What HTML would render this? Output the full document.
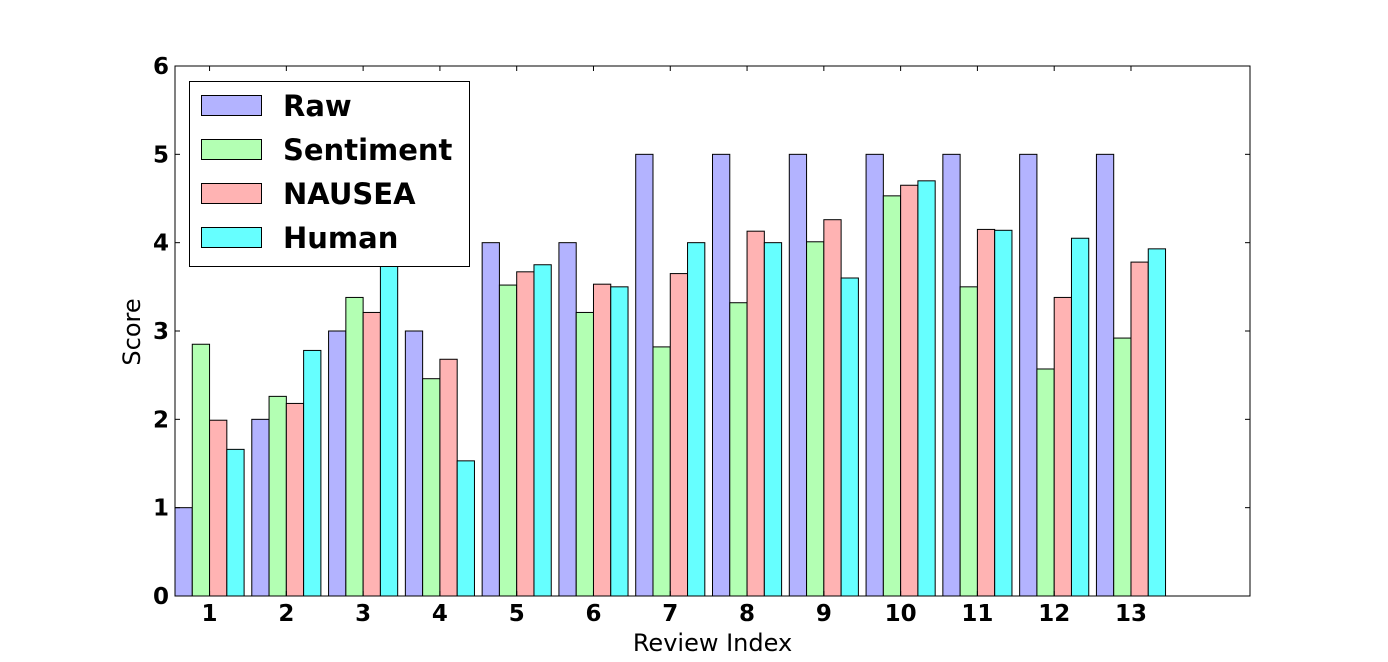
<!DOCTYPE html>
<html><head><meta charset="utf-8"><style>
body{margin:0;background:#fff}
svg{display:block;font-family:"DejaVu Sans","Liberation Sans",sans-serif}
</style></head><body>
<svg id="chart" width="1388" height="662"></svg>
<script>
const categories=["1","2","3","4","5","6","7","8","9","10","11","12","13"];
const seriesNames=["Raw","Sentiment","NAUSEA","Human"];
const rawValues=[1,2,3,3,4,4,5,5,5,5,5,5,5];
const sentimentValues=[2.85,2.26,3.38,2.46,3.52,3.21,2.82,3.32,4.01,4.53,3.50,2.57,2.92];
const nauseaValues=[1.99,2.18,3.21,2.68,3.67,3.53,3.65,4.13,4.26,4.65,4.15,3.38,3.78];
const humanValues=[1.66,2.78,3.85,1.53,3.75,3.50,4.00,4.00,3.60,4.70,4.14,4.05,3.93];
const yTicks=[0,1,2,3,4,5,6];
const colors=["#b3b3ff","#b3ffb3","#ffb3b3","#66ffff"];
const series=[rawValues,sentimentValues,nauseaValues,humanValues];
const NS="http://www.w3.org/2000/svg";
const svg=document.getElementById("chart");
const L=175,R=1250,T=66,B=596;
const xs=v=>L+v*(R-L)/14;
const ys=v=>B-v*(B-T)/6;
const bw=0.225;
function mk(tag,attrs,parent){const e=document.createElementNS(NS,tag);for(const k in attrs)e.setAttribute(k,attrs[k]);(parent||svg).appendChild(e);return e;}
const bars=mk("g",{});


series.forEach((vals,s)=>{
  vals.forEach((v,i)=>{
    const x0=xs(i+s*bw),x1=xs(i+(s+1)*bw);
    const r=mk("rect",{x:x0,y:ys(v),width:x1-x0,height:ys(0)-ys(v),fill:colors[s],stroke:"#000","stroke-width":1},bars);
    
    
  });
});
const frame=mk("rect",{x:L,y:T,width:R-L,height:B-T,fill:"none",stroke:"#000","stroke-width":1});


yTicks.forEach(t=>{
  const y=ys(t);
  mk("line",{x1:L,x2:L+5,y1:y,y2:y,stroke:"#000"});
  mk("line",{x1:R,x2:R-5,y1:y,y2:y,stroke:"#000"});
  const tx=mk("text",{x:L-6,y:y+8,"text-anchor":"end","font-size":23,"font-weight":"bold"});
  tx.textContent=t;
  
  
});
categories.forEach((c,i)=>{
  const x=xs(i+2*bw);
  mk("line",{x1:x,x2:x,y1:B,y2:B-5,stroke:"#000"});
  mk("line",{x1:x,x2:x,y1:T,y2:T+5,stroke:"#000"});
  const tx=mk("text",{x:x,y:B+25,"text-anchor":"middle","font-size":23,"font-weight":"bold"});
  tx.textContent=c;
  
  
});
const xl=mk("text",{x:(L+R)/2,y:651,"text-anchor":"middle","font-size":24});
xl.textContent="Review Index";


const yl=mk("text",{x:140,y:332,"text-anchor":"middle","font-size":24,transform:"rotate(-90 140 332)"});
yl.textContent="Score";


const lg=mk("g",{});


mk("rect",{x:189.5,y:81.5,width:280,height:185,fill:"#fff",stroke:"#000"},lg);
seriesNames.forEach((n,s)=>{
  const y=95+s*44;
  const p=mk("rect",{x:201.5,y:y+0.5,width:60,height:20,fill:colors[s],stroke:"#000"},lg);
  
  
  const t=mk("text",{x:283,y:y+21,"font-size":29,"font-weight":"bold"},lg);
  t.textContent=n;
  
  
});
</script>
</body></html>
